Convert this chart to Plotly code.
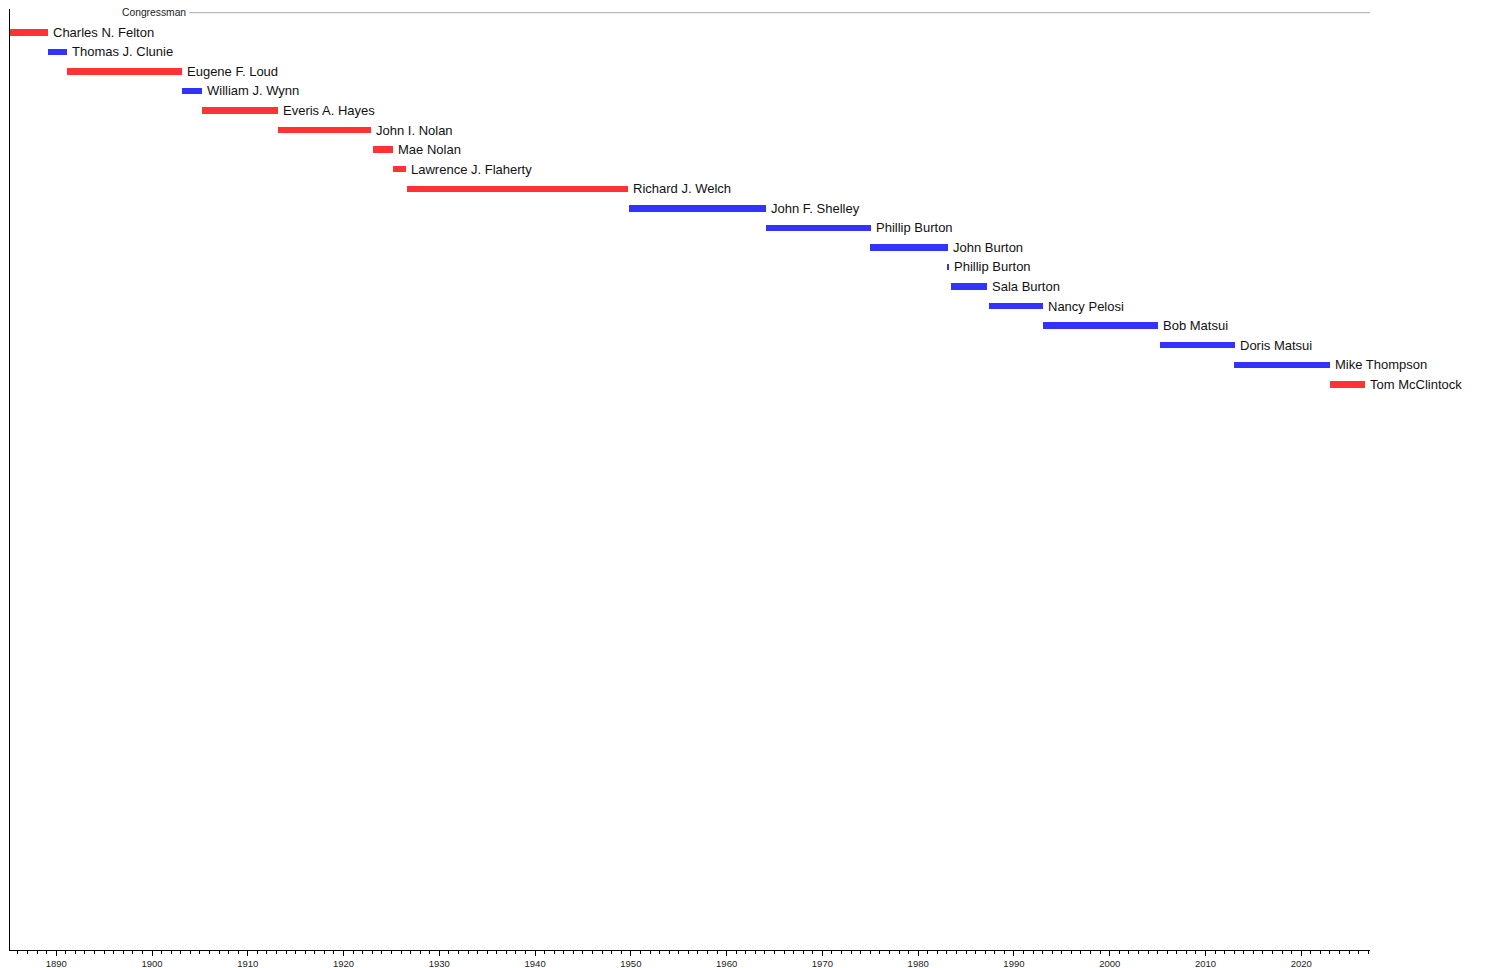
import plotly.graph_objects as go

names = ["Charles N. Felton", "Thomas J. Clunie", "Eugene F. Loud", "William J. Wynn",
         "Everis A. Hayes", "John I. Nolan", "Mae Nolan", "Lawrence J. Flaherty",
         "Richard J. Welch", "John F. Shelley", "Phillip Burton", "John Burton",
         "Phillip Burton", "Sala Burton", "Nancy Pelosi", "Bob Matsui", "Doris Matsui",
         "Mike Thompson", "Tom McClintock"]
starts = [1885.17, 1889.17, 1891.17, 1903.17, 1905.17, 1913.17, 1923.06, 1925.17,
          1926.62, 1949.80, 1964.10, 1975.00, 1983.00, 1983.45, 1987.43, 1993.00,
          2005.20, 2013.00, 2023.00]
ends = [1889.17, 1891.17, 1903.17, 1905.17, 1913.17, 1922.90, 1925.20, 1926.47,
        1949.70, 1964.08, 1975.05, 1983.08, 1983.27, 1987.15, 1993.05, 2005.05,
        2013.05, 2023.05, 2026.65]
parties = ["R", "D", "R", "D", "R", "R", "R", "R", "R", "D", "D", "D", "D", "D", "D",
           "D", "D", "D", "R"]
header = "Congressman"

party_colors = {"R": "rgb(255,51,51)", "D": "rgb(51,51,255)"}
rows = list(range(1, len(names) + 1))
x_min, x_max = 1885.17, 2027.18
header_line_start = 1903.9
FONT = "Liberation Sans, Arial, sans-serif"

fig = go.Figure()
fig.add_trace(go.Bar(
    orientation="h", y=rows, base=starts,
    x=[e - s for s, e in zip(starts, ends)],
    width=0.33, marker=dict(color=[party_colors[p] for p in parties], line=dict(width=0)),
    hoverinfo="skip", showlegend=False))
for name, e, r in zip(names, ends, rows):
    fig.add_annotation(x=e, y=r, text=name, showarrow=False, xanchor="left",
                       yanchor="middle", xshift=3,
                       font=dict(family=FONT, size=13, color="#111"))
fig.add_trace(go.Scatter(
    x=[header_line_start, x_max], y=[0, 0], mode="lines",
    line=dict(color="#aaaaaa", width=1), hoverinfo="skip", showlegend=False))
fig.add_annotation(x=header_line_start, y=0, text=header, showarrow=False,
                   xanchor="right", xshift=-1, yanchor="middle",
                   font=dict(family=FONT, size=10.3, color="#222"))

fig.update_layout(
    width=1500, height=968, margin=dict(l=10, r=130, t=9, b=18),
    plot_bgcolor="white", paper_bgcolor="white", bargap=0,
    xaxis=dict(range=[x_min, x_max], tick0=1890, dtick=10, ticks="outside",
               ticklen=4.5, tickcolor="black", tickwidth=1, automargin=False,
               showline=True, linecolor="black", linewidth=1, showgrid=False,
               zeroline=False,
               tickfont=dict(family=FONT, size=9.5, color="#222"),
               minor=dict(dtick=1, ticks="outside", ticklen=2.5, tickcolor="black",
                          showgrid=False)),
    yaxis=dict(range=[47.92, -0.19], showline=True, linecolor="black", linewidth=1,
               automargin=False,
               showticklabels=False, ticks="", showgrid=False, zeroline=False),
)
fig.write_html("out.html", config={"displayModeBar": False})

with open("out.html", "r", encoding="utf-8") as f:
    html = f.read()
html = html.replace("<head>", "<head><style>html,body{margin:0;padding:0;overflow:hidden;}</style>", 1)
with open("out.html", "w", encoding="utf-8") as f:
    f.write(html)
